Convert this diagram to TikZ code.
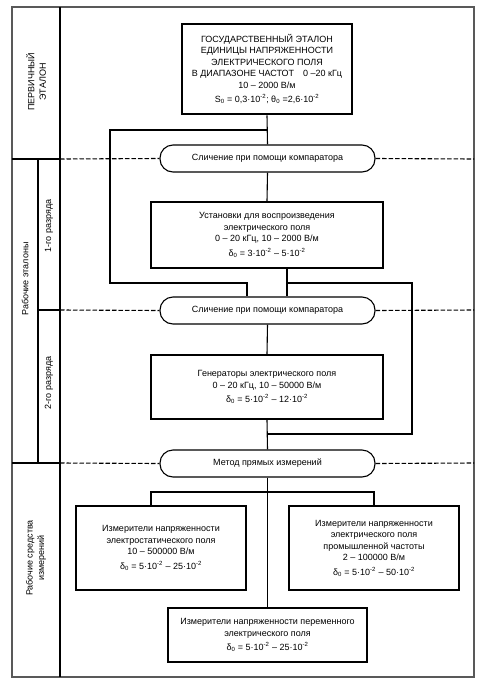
\documentclass[tikz,border=0pt]{standalone}
\usepackage{fontspec}
\setmainfont{Liberation Sans}
\usetikzlibrary{calc}
\newcommand{\mysub}[1]{\textsubscript{#1}}
\newcommand{\mysup}[1]{\textsuperscript{#1}}
\begin{document}
\begin{tikzpicture}[x=1pt,y=-1pt,
  txt/.style={font=\fontsize{9}{11.5}\selectfont, align=center, inner sep=0pt},
  blk/.style={txt, draw, line width=1.1pt, rectangle},
  rnd/.style={txt, draw, line width=1.1pt, rounded corners=13pt},
  con/.style={line width=1.1pt},
  dsh/.style={line width=1.1pt, dash pattern=on 4.5pt off 2pt},
  lab/.style={txt, rotate=90}]
\useasboundingbox (0,0) rectangle (481,683);
% frame
\draw[line width=1.2pt, gray!70!black] (12,7) rectangle (474,677);
\draw[line width=1.7pt] (60,7) -- (60,677);
\draw[line width=1.1pt] (38,159) -- (38,463);
% nodes
\node[blk, line width=2.8pt, minimum width=170pt, minimum height=90pt] (top) at (267,69)
 {ГОСУДАРСТВЕННЫЙ ЭТАЛОН\\ЕДИНИЦЫ НАПРЯЖЕННОСТИ\\ЭЛЕКТРИЧЕСКОГО ПОЛЯ\\В ДИАПАЗОНЕ ЧАСТОТ\quad 0 –20 кГц\\10 – 2000 В/м\\[3pt]S\mysub{0} = 0,3·10\mysup{-2}; θ\mysub{0} =2,6·10\mysup{-2}};
\node[rnd, minimum width=215pt, minimum height=27pt] (r1) at (267.5,158.5) {Сличение при помощи компаратора};
\node[blk, minimum width=232pt, minimum height=66pt] (b2) at (267,235)
 {Установки для воспроизведения\\электрического поля\\0 – 20 кГц, 10 – 2000 В/м\\[3pt]δ\mysub{0} = 3·10\mysup{-2} – 5·10\mysup{-2}};
\node[rnd, minimum width=215pt, minimum height=27pt] (r2) at (267.5,310.5) {Сличение при помощи компаратора};
\node[blk, minimum width=232pt, minimum height=64pt] (b3) at (267,387)
 {Генераторы электрического поля\\0 – 20 кГц, 10 – 50000 В/м\\[3pt]δ\mysub{0} = 5·10\mysup{-2} – 12·10\mysup{-2}};
\node[rnd, minimum width=215pt, minimum height=27pt] (r3) at (267.5,463.5) {Метод прямых измерений};
\node[blk, minimum width=170pt, minimum height=84pt] (b4) at (161,548)
 {Измерители напряженности\\электростатического поля\\10 – 500000 В/м\\[3pt]δ\mysub{0} = 5·10\mysup{-2} – 25·10\mysup{-2}};
\node[blk, minimum width=170pt, minimum height=84pt] (b5) at (374,548)
 {Измерители напряженности\\электрического поля\\промышленной частоты\\2 – 100000 В/м\\[3pt]δ\mysub{0} = 5·10\mysup{-2} – 50·10\mysup{-2}};
\node[blk, minimum width=199pt, minimum height=54pt] (b6) at (267.5,635)
 {Измерители напряженности переменного\\электрического поля\\[3pt]δ\mysub{0} = 5·10\mysup{-2} – 25·10\mysup{-2}};
% side labels
\node[lab] (l1) at (36,82) {ПЕРВИЧНЫЙ\\ЭТАЛОН};
\node[lab] (l2) at (25,279) {Рабочие эталоны};
\node[lab] (l3) at (49,226) {1-го разряда};
\node[lab] (l4) at (49,383) {2-го разряда};
\node[lab] (l5) at (36,558) {Рабочие средства\\измерений};
% dividers
\coordinate (fr1) at (474,159);
\coordinate (fr2) at (474,310);
\coordinate (fr3) at (474,463);
\draw[con] (12,159) -- (60,159);
\draw[dsh] (60,159) -- (r1.west);
\draw[dsh] (r1.east) -- (fr1);
\draw[con] (38,310) -- (60,310);
\draw[dsh] (60,310) -- (r2.west);
\draw[dsh] (r2.east) -- (fr2);
\draw[con] (12,463) -- (60,463);
\draw[dsh] (60,463) -- (r3.west);
\draw[dsh] (r3.east) -- (fr3);
% connectors
\coordinate (j1) at (267,130);
\coordinate (j2) at (287,283);
\coordinate (j3) at (267,434);
\coordinate (j4) at (267,492);
\coordinate (xl) at (247,0);
\coordinate (x4) at (151,0);
\coordinate (x5) at (374,0);
\draw[con] (top.south) -- (r1.north);
\draw[con] (j1) -| (110,283) -| (r2.north -| xl);
\draw[con] (r1.south) -- (b2.north);
\draw[con] (b2.south -| j2) -- (j2) -- (r2.north -| j2);
\draw[con] (j2) -| (412,434) -- (j3);
\draw[con] (r2.south) -- (b3.north);
\draw[con] (b3.south) -- (r3.north);
\draw[con] (r3.south) -- (b6.north);
\draw[con] (b4.north -| x4) |- (j4) -| (b5.north -| x5);
\end{tikzpicture}
\end{document}
